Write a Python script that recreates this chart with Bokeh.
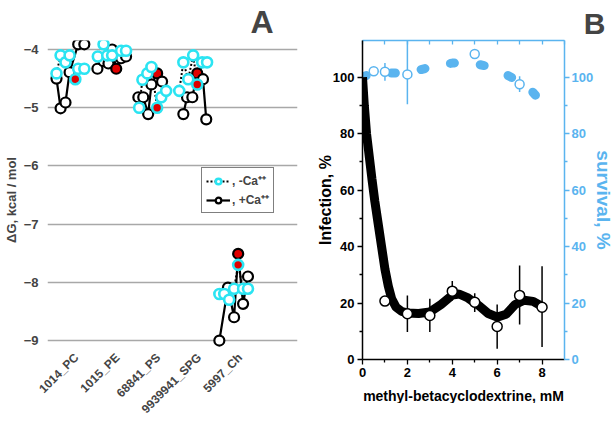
import math
from bokeh.plotting import figure
from bokeh.layouts import row
from bokeh.models import (FixedTicker, LinearAxis, Legend, LegendItem, Range1d)
from bokeh.embed import file_html
from bokeh.resources import INLINE

# ---------------- Panel A data ----------------
lipids = ["1014_PC", "1015_PE", "68841_PS", "9939941_SPG", "5997_Ch"]
dg_ticks = [-9, -8, -7, -6, -5, -4]

# +Ca++ (solid black)  offsets within each lipid group and dG values
plus_off = [[-0.34, -0.24, -0.12, -0.02, 0.19, 0.34],
            [-0.34, -0.19, -0.07, 0.02, 0.12, 0.24, 0.36],
            [-0.34, -0.22, -0.10, -0.02, 0.12, 0.24],
            [-0.24, -0.15, -0.02, 0.10, 0.24, 0.32],
            [-0.36, -0.15, 0.00, 0.10, 0.22, 0.34]]
plus_dg = [[-4.50, -5.01, -4.91, -4.39, -3.91, -3.91],
           [-4.33, -4.20, -4.24, -4.00, -4.33, -4.15, -4.12],
           [-4.82, -4.82, -5.11, -4.60, -4.41, -4.55],
           [-5.11, -4.82, -4.82, -4.41, -4.51, -5.20],
           [-9.00, -8.09, -8.60, -7.51, -8.37, -7.90]]
plus_red = [None, 4, 4, 3, 3]

# -Ca++ (dotted, cyan markers)
minus_off = [[-0.34, -0.24, -0.12, -0.02, 0.12, 0.19, 0.34],
             [-0.33, -0.19, -0.10, 0.02, 0.24, 0.36],
             [-0.32, -0.24, -0.12, -0.02, 0.12, 0.22, 0.34],
             [-0.34, -0.24, -0.12, 0.00, 0.10, 0.22, 0.34],
             [-0.36, -0.24, -0.12, 0.00, 0.10, 0.22, 0.34]]
minus_dg = [[-4.41, -4.10, -4.22, -4.10, -4.51, -4.33, -4.33],
            [-4.12, -3.91, -4.10, -4.10, -4.02, -4.02],
            [-5.00, -4.52, -4.41, -4.30, -5.00, -4.82, -4.71],
            [-4.71, -4.22, -4.51, -4.10, -4.60, -4.22, -4.22],
            [-8.20, -8.20, -8.30, -8.11, -7.70, -8.11, -8.11]]
minus_red = [4, None, 4, 4, 4]

# ---------------- Panel B data ----------------
conc = [1, 2, 3, 4, 5, 6, 7, 8]
infection = [20.7, 16.2, 15.6, 24.2, 20.3, 11.7, 22.7, 18.5]
inf_lo = [20.7, 9.7, 9.7, 20.9, 16.8, 3.8, 12.4, 4.4]
inf_hi = [20.7, 22.7, 21.5, 27.8, 23.5, 19.5, 33.3, 33.0]

fit_x = [0, 0.08, 0.18, 0.3, 0.42, 0.55, 0.7, 0.85, 1.0, 1.15, 1.3, 1.5, 1.75,
         2.0, 2.5, 3.0, 3.5, 4.0, 4.3, 4.7, 5.2, 5.6, 6.0, 6.4, 6.8, 7.2, 7.6, 8.0]
fit_inf = [100, 90, 80, 72, 64, 56, 48, 40, 32, 26, 21.5, 18.5, 17, 16.5, 16.3,
           16.8, 19.5, 22.8, 23.2, 21.8, 19, 16.3, 15, 16, 19.5, 21, 20.6, 18.8]

surv_conc = [0.5, 1, 2, 5, 7]
survival = [102.1, 101.9, 101.0, 108.2, 97.5]
surv_lo = [102.1, 98.7, 90.4, 106.7, 94.8]
surv_hi = [102.1, 105.0, 113.0, 109.7, 100.3]

surv_fit_x = [0, 0.5, 1, 1.5, 2, 2.5, 3, 3.5, 4, 4.5, 5, 5.5, 6, 6.5, 7, 7.5, 8]
surv_fit = [100, 101.8, 101.5, 101.5, 101.8, 102.5, 103.5, 104.3, 105, 105.2,
            104.8, 104, 102.5, 100.5, 98.5, 95.5, 91]

FONT = "Liberation Sans"
CYAN = "#2BE4F2"
RED = "#E00000"
BLUE = "#5AB4EF"
FH = 319
FWA = 250
FWB = 202

# ---------------- Panel A ----------------
pA = figure(frame_width=FWA, frame_height=FH, output_backend="svg",
            toolbar_location=None, x_range=Range1d(-0.56, 5.55),
            y_range=Range1d(-9.326, -3.845), min_border_top=0,
            min_border_right=16, min_border_left=0, min_border_bottom=0,
            title="A")
pA.title.align = "right"
pA.title.text_font = FONT
pA.title.text_font_style = "bold"
pA.title.text_font_size = "32px"
pA.title.offset = 24
pA.title.standoff = 2
pA.outline_line_color = None
pA.xgrid.visible = False
pA.ygrid.ticker = FixedTicker(ticks=dg_ticks)
pA.ygrid.grid_line_color = "#a8a8a8"
pA.ygrid.grid_line_width = 1.3

pA.yaxis.ticker = FixedTicker(ticks=dg_ticks)
pA.yaxis.axis_line_color = None
pA.yaxis.major_tick_line_color = None
pA.yaxis.minor_tick_line_color = None
pA.yaxis.major_label_text_font = FONT
pA.yaxis.major_label_text_font_style = "bold"
pA.yaxis.major_label_text_font_size = "13px"
pA.yaxis.major_label_standoff = 3
pA.yaxis.axis_label = "ΔG, kcal / mol"
pA.yaxis.axis_label_text_font = FONT
pA.yaxis.axis_label_text_font_style = "bold"
pA.yaxis.axis_label_text_font_size = "13px"
pA.yaxis.axis_label_standoff = 2

xt = [i + 0.15 for i in range(len(lipids))]
pA.xaxis.ticker = FixedTicker(ticks=xt)
pA.xaxis.major_label_overrides = {t: lab for t, lab in zip(xt, lipids)}
pA.xaxis.major_label_orientation = math.pi / 4
pA.xaxis.axis_line_color = None
pA.xaxis.major_tick_line_color = None
pA.xaxis.minor_tick_line_color = None
pA.xaxis.major_label_text_font = FONT
pA.xaxis.major_label_text_font_style = "bold"
pA.xaxis.major_label_text_font_size = "12px"
pA.xaxis.major_label_standoff = -10

leg_minus = None
leg_plus = None
for i in range(len(lipids)):
    xm = [i + o for o in minus_off[i]]
    lm = pA.line(xm, minus_dg[i], line_color="black", line_width=2, line_dash="2 2")
    xp = [i + o for o in plus_off[i]]
    lp = pA.line(xp, plus_dg[i], line_color="black", line_width=2.2)
    fills_m = [RED if k == minus_red[i] else "white" for k in range(len(xm))]
    fills_p = [RED if k == plus_red[i] else "white" for k in range(len(xp))]
    pA.scatter(xp, plus_dg[i], size=10, fill_color=fills_p, line_color="black",
               line_width=2.2)
    pA.scatter(xm, minus_dg[i], size=10, fill_color=fills_m, line_color=CYAN,
               line_width=2.6)
    if i == 0:
        leg_minus = lm
        leg_plus = lp

# legend-only marker renderers (placed outside the visible range)
lgm = pA.scatter([-5], [-5], size=10, fill_color="white", line_color=CYAN, line_width=2.6)
lgp = pA.scatter([-5], [-5], size=10, fill_color="white", line_color="black", line_width=2.2)
legend = Legend(items=[LegendItem(label=", -Ca⁺⁺", renderers=[leg_minus, lgm]),
                       LegendItem(label=", +Ca⁺⁺", renderers=[leg_plus, lgp])],
                location=(FWA - 96, 146))
legend.label_text_font = FONT
legend.label_text_font_style = "bold"
legend.label_text_font_size = "12px"
legend.glyph_width = 24
legend.glyph_height = 14
legend.spacing = 2
legend.padding = 4
legend.margin = 0
legend.label_standoff = 2
legend.border_line_color = "black"
legend.border_line_width = 1
legend.background_fill_alpha = 1
pA.add_layout(legend)

# ---------------- Panel B ----------------
pB = figure(frame_width=FWB, frame_height=FH, output_backend="svg",
            toolbar_location=None, x_range=Range1d(0, 9), y_range=Range1d(0, 113),
            min_border_top=0, min_border_left=0, min_border_right=0,
            min_border_bottom=0, x_axis_location=None, y_axis_location=None,
            title="B")
pB.title.align = "right"
pB.title.text_font = FONT
pB.title.text_font_style = "bold"
pB.title.text_font_size = "30px"
pB.title.offset = -41
pB.title.standoff = 2
pB.outline_line_color = None
pB.grid.visible = False

def style_axis(ax, color, ticks, minor):
    ax.ticker = FixedTicker(ticks=ticks, minor_ticks=minor)
    ax.axis_line_color = color
    ax.axis_line_width = 1.5
    ax.major_tick_line_color = color
    ax.minor_tick_line_color = color
    ax.major_tick_line_width = 1.3
    ax.minor_tick_line_width = 1.3
    ax.major_tick_in = 0
    ax.major_tick_out = 5
    ax.minor_tick_in = 0
    ax.minor_tick_out = 3
    ax.major_label_text_color = color
    ax.major_label_text_font = FONT
    ax.major_label_text_font_style = "bold"
    ax.major_label_text_font_size = "13px"
    ax.major_label_standoff = 3
    ax.axis_label_text_font = FONT
    ax.axis_label_text_font_style = "bold"
    ax.axis_label_text_color = color

left = LinearAxis(axis_label="Infection, %")
style_axis(left, "black", [0, 20, 40, 60, 80, 100], [10, 30, 50, 70, 90])
left.axis_label_text_font_size = "16px"
left.axis_label_standoff = -4
pB.add_layout(left, "left")

right = LinearAxis(axis_label="survival, %")
style_axis(right, BLUE, [0, 20, 40, 60, 80, 100], [10, 30, 50, 70, 90])
right.axis_label_text_font_size = "19px"
right.axis_label_standoff = -3
right.major_label_standoff = 2
pB.add_layout(right, "right")

bottom = LinearAxis(axis_label="methyl-betacyclodextrine, mM")
style_axis(bottom, "black", [0, 2, 4, 6, 8], [1, 3, 5, 7])
bottom.axis_label_text_font_size = "14px"
bottom.axis_label_standoff = 8
pB.add_layout(bottom, "below")

top = LinearAxis()
style_axis(top, BLUE, [0, 2, 4, 6, 8], [1, 3, 5, 7, 9])
top.major_tick_in = 4
top.major_tick_out = 0
top.minor_tick_in = 4
top.minor_tick_out = 0
top.major_label_text_font_size = "0px"
top.major_label_text_alpha = 0
top.major_label_standoff = 0
pB.add_layout(top, "above")

# survival
pB.line(surv_fit_x, surv_fit, line_color=BLUE, line_width=9, line_dash="4 26",
        line_cap="round")
pB.segment(x0=surv_conc, y0=surv_lo, x1=surv_conc, y1=surv_hi, line_color=BLUE,
           line_width=1.5)
pB.scatter(surv_conc, survival, size=9, fill_color="white", line_color=BLUE,
           line_width=1.5)

# infection
pB.line(fit_x, fit_inf, line_color="black", line_width=9)
pB.segment(x0=conc, y0=inf_lo, x1=conc, y1=inf_hi, line_color="black", line_width=1.5)
pB.scatter(conc, infection, size=10, fill_color="white", line_color="black",
           line_width=1.5)

layout = row(pA, pB)
open("out.html", "w").write(file_html(layout, INLINE))
